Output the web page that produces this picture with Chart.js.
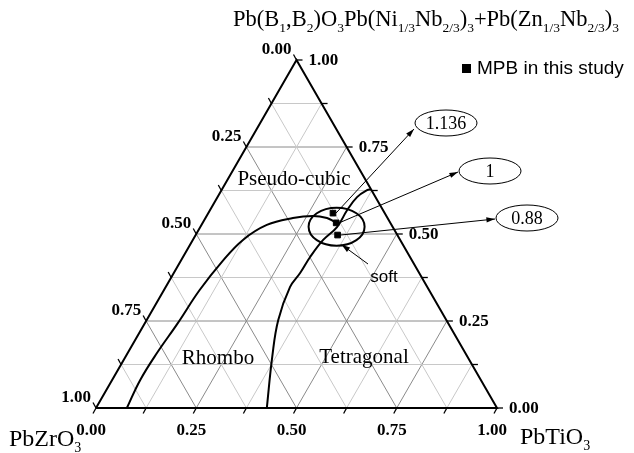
<!DOCTYPE html>
<html>
<head>
<meta charset="utf-8">
<script src="https://cdn.jsdelivr.net/npm/chart.js@4.4.0/dist/chart.umd.min.js"></script>
<style>
html, body { margin: 0; padding: 0; background: #fff; }
canvas { display: block; }
</style>
</head>
<body>
<canvas id="graficoTernario" width="634" height="453"></canvas>
<script>
// valores em fracao: [PbTiO3, Pb(B1,B2)O3]  (PbZrO3 = 1 - soma)
const tickLabels = ['0.00', '0.25', '0.50', '0.75', '1.00'];
const gridSteps = [0.125, 0.25, 0.375, 0.5, 0.625, 0.75, 0.875];
const rhomboBoundary = [
    [0.077, 0.000], [0.070, 0.080], [0.073, 0.158], [0.082, 0.244],
    [0.089, 0.339], [0.104, 0.420], [0.125, 0.483], [0.163, 0.526],
    [0.218, 0.546], [0.265, 0.552], [0.303, 0.546], [0.329, 0.534]
];
const tetraBoundary = [
    [0.426, 0.000], [0.366, 0.147], [0.328, 0.253], [0.310, 0.348],
    [0.315, 0.388], [0.317, 0.434], [0.325, 0.483], [0.341, 0.520],
    [0.342, 0.569], [0.348, 0.606], [0.363, 0.626], [0.372, 0.628]
];
const mpbPoints = [[0.311, 0.560], [0.333, 0.532], [0.354, 0.497]];
const mpbRatios = ['1.136', '1', '0.88'];

const H = Math.sqrt(3) / 2;
function toXY(p) {
    return { x: p[0] + p[1] / 2, y: p[1] * H };
}

const datasets = [];

gridSteps.forEach(function (f) {
    const cor = (f * 4) % 1 === 0 ? '#8a8a8a' : '#c8c8c8';
    // r constante, t constante, z constante
    [
        [[0, f], [1 - f, f]],
        [[f, 0], [f, 1 - f]],
        [[1 - f, 0], [0, 1 - f]]
    ].forEach(function (seg) {
        datasets.push({
            data: seg.map(toXY),
            showLine: true,
            borderColor: cor,
            borderWidth: 1,
            pointRadius: 0,
            order: 4
        });
    });
});

datasets.push({
    data: [[0, 0], [1, 0], [0, 1], [0, 0]].map(toXY),
    showLine: true,
    borderColor: '#000',
    borderWidth: 2,
    pointRadius: 0,
    order: 3
});

[rhomboBoundary, tetraBoundary].forEach(function (curva) {
    datasets.push({
        data: curva.map(toXY),
        showLine: true,
        borderColor: '#000',
        borderWidth: 2,
        tension: 0.4,
        pointRadius: 0,
        order: 2
    });
});

datasets.push({
    label: 'MPB in this study',
    data: mpbPoints.map(toXY),
    showLine: false,
    pointStyle: 'rect',
    pointRadius: 4,
    backgroundColor: '#000',
    borderColor: '#000',
    order: 1
});

function seta(ctx, x1, y1, x2, y2) {
    const ang = Math.atan2(y2 - y1, x2 - x1);
    ctx.beginPath();
    ctx.moveTo(x1, y1);
    ctx.lineTo(x2, y2);
    ctx.stroke();
    ctx.beginPath();
    ctx.moveTo(x2, y2);
    ctx.lineTo(x2 - 9 * Math.cos(ang - 0.3), y2 - 9 * Math.sin(ang - 0.3));
    ctx.lineTo(x2 - 9 * Math.cos(ang + 0.3), y2 - 9 * Math.sin(ang + 0.3));
    ctx.closePath();
    ctx.fill();
}

function textoComIndices(ctx, partes, x, y, tam, tamSub) {
    partes.forEach(function (p) {
        const sub = p[1];
        ctx.font = (sub ? tamSub : tam) + 'px "Liberation Serif", serif';
        ctx.fillText(p[0], x, sub ? y + 6 : y);
        x += ctx.measureText(p[0]).width;
    });
}

const decoracao = {
    id: 'decoracao',
    afterDraw: function (chart) {
        const ctx = chart.ctx;
        const sx = chart.scales.x, sy = chart.scales.y;
        const px = function (p) {
            const c = toXY(p);
            return [sx.getPixelForValue(c.x), sy.getPixelForValue(c.y)];
        };
        ctx.save();
        ctx.strokeStyle = '#000';
        ctx.fillStyle = '#000';
        ctx.lineWidth = 1.3;

        // marcas nos eixos
        [0].concat(gridSteps, [1]).forEach(function (f) {
            let a = px([f, 0]);
            ctx.beginPath(); ctx.moveTo(a[0], a[1]); ctx.lineTo(a[0] - 3, a[1] + 5.5); ctx.stroke();
            a = px([0, 1 - f]);
            ctx.beginPath(); ctx.moveTo(a[0], a[1]); ctx.lineTo(a[0] - 3, a[1] - 5.5); ctx.stroke();
            a = px([1 - f, f]);
            ctx.beginPath(); ctx.moveTo(a[0], a[1]); ctx.lineTo(a[0] + 6, a[1]); ctx.stroke();
        });

        // rotulos dos eixos
        ctx.font = 'bold 17px "Liberation Serif", serif';
        ctx.textBaseline = 'middle';
        tickLabels.forEach(function (lab, i) {
            const f = i / 4;
            let a = px([f, 0]);
            ctx.textAlign = 'center';
            ctx.fillText(lab, a[0] - 5, a[1] + 23);
            a = px([0, 1 - f]);
            ctx.textAlign = 'right';
            ctx.fillText(lab, a[0] - 5, a[1] - 10);
            a = px([1 - f, f]);
            ctx.textAlign = 'left';
            ctx.fillText(lab, a[0] + 12, a[1] + 1);
        });

        ctx.textAlign = 'left';
        ctx.textBaseline = 'alphabetic';
        textoComIndices(ctx, [['PbZrO', false], ['3', true]], 9, 446, 24, 14);
        textoComIndices(ctx, [['PbTiO', false], ['3', true]], 520, 444, 24, 14);
        textoComIndices(ctx, [
            ['Pb(B', false], ['1', true], [',B', false], ['2', true], [')O', false], ['3', true],
            ['Pb(Ni', false], ['1/3', true], ['Nb', false], ['2/3', true], [')', false], ['3', true],
            ['+Pb(Zn', false], ['1/3', true], ['Nb', false], ['2/3', true], [')', false], ['3', true]
        ], 233, 26, 22.5, 13.5);

        // legenda
        ctx.fillRect(462, 64, 9, 9);
        ctx.font = '19px "Liberation Sans", Arial, sans-serif';
        ctx.textBaseline = 'middle';
        ctx.fillText('MPB in this study', 477, 69);

        // regioes
        ctx.font = '21px "Liberation Serif", serif';
        ctx.textAlign = 'center';
        ctx.fillText('Pseudo-cubic', 294, 179);
        ctx.fillText('Rhombo', 218, 358);
        ctx.fillText('Tetragonal', 364, 357);
        ctx.font = '17px "Liberation Sans", Arial, sans-serif';
        ctx.fillText('soft', 384, 277);

        // elipse em volta dos pontos MPB
        const pts = mpbPoints.map(px);
        const cx = pts.reduce(function (s, p) { return s + p[0]; }, 0) / pts.length;
        const cy = pts.reduce(function (s, p) { return s + p[1]; }, 0) / pts.length;
        ctx.lineWidth = 2;
        ctx.beginPath();
        ctx.ellipse(cx + 1, cy + 3, 28, 19, 0, 0, Math.PI * 2);
        ctx.stroke();

        // rotulos das razoes
        const caixas = [[446, 123], [490, 171], [527, 218]];
        ctx.lineWidth = 1;
        ctx.font = '18px "Liberation Serif", serif';
        mpbRatios.forEach(function (lab, i) {
            const c = caixas[i];
            ctx.beginPath();
            ctx.ellipse(c[0], c[1], 31, 13, 0, 0, Math.PI * 2);
            ctx.stroke();
            ctx.fillText(lab, c[0], c[1] + 1);
            seta(ctx, pts[i][0] + 3, pts[i][1], c[0] - 32, c[1] + (i === 0 ? 6 : 1));
        });
        seta(ctx, 368, 264, cx + 6, cy + 21);

        ctx.restore();
    }
};

new Chart(document.getElementById('graficoTernario'), {
    type: 'scatter',
    data: { datasets: datasets },
    options: {
        responsive: false,
        animation: false,
        layout: { padding: { left: 96, right: 137, top: 60, bottom: 45 } },
        plugins: {
            legend: { display: false },
            tooltip: { enabled: false }
        },
        scales: {
            x: { type: 'linear', min: 0, max: 1, display: false },
            y: { type: 'linear', min: 0, max: H, display: false }
        },
        elements: { line: { fill: false } },
        clip: false
    },
    plugins: [decoracao]
});
</script>
</body>
</html>
